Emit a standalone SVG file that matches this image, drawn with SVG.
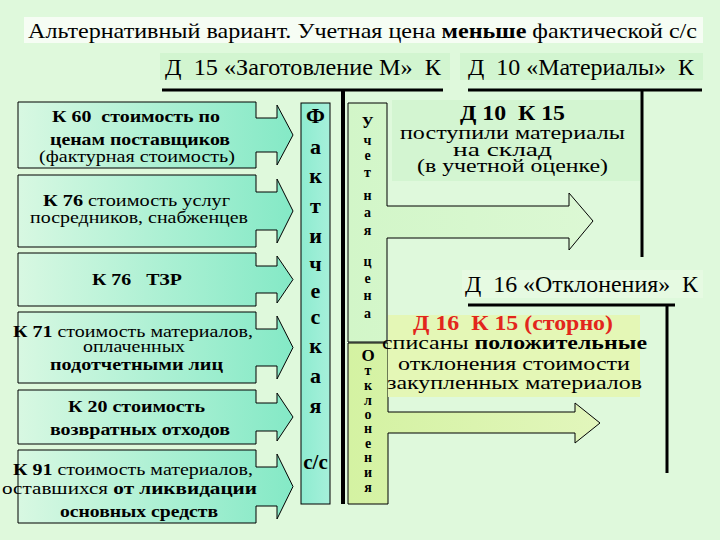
<svg xmlns="http://www.w3.org/2000/svg" width="720" height="540" viewBox="0 0 720 540">
<defs>
<linearGradient id="gBox" x1="0" y1="0" x2="1" y2="0">
<stop offset="0" stop-color="#d8f8e2"/>
<stop offset="1" stop-color="#84e9c6"/>
</linearGradient>
<linearGradient id="gF" x1="0" y1="0" x2="1" y2="0">
<stop offset="0" stop-color="#8eecd0"/>
<stop offset="1" stop-color="#a6f0da"/>
</linearGradient>
<linearGradient id="gU" x1="0" y1="0" x2="1" y2="0">
<stop offset="0" stop-color="#d2f6c8"/>
<stop offset="1" stop-color="#dcf8d4"/>
</linearGradient>
<linearGradient id="gO" x1="0" y1="0" x2="1" y2="0">
<stop offset="0" stop-color="#d4f2a2"/>
<stop offset="1" stop-color="#e2f6bc"/>
</linearGradient>
<style>
.box{fill:url(#gBox);stroke:#000;stroke-width:1}
.ln{stroke:#000;fill:none}
</style>
</defs>
<rect width="720" height="540" fill="#dff9dc"/>
<g font-family="Liberation Serif, Times New Roman, serif" fill="#000">

<g id="title">
<rect x="24" y="17" width="679" height="26" fill="#f6fdf4"/>
<text font-size="22" x="28" y="38" textLength="669" lengthAdjust="spacingAndGlyphs">Альтернативный вариант. Учетная цена <tspan font-weight="bold">меньше</tspan> фактической с/с</text>
</g>

<g id="head15">
<rect x="160" y="53" width="290" height="27" fill="#d2f5d0"/>
<text font-size="23" x="165" y="75" textLength="276" lengthAdjust="spacingAndGlyphs">Д&#160; 15 «Заготовление М»&#160; К</text>
</g>
<g id="head10">
<rect x="460" y="53" width="243" height="27" fill="#d2f5d0"/>
<text font-size="23" x="468" y="75" textLength="226" lengthAdjust="spacingAndGlyphs">Д&#160; 10 «Материалы»&#160; К</text>
</g>
<g id="head16">
<rect x="462" y="270" width="241" height="28" fill="#e6fae2"/>
<text font-size="23" x="465" y="292" textLength="233" lengthAdjust="spacingAndGlyphs">Д&#160; 16 «Отклонения»&#160; К</text>
</g>

<g id="connectors">
<path class="ln" stroke-width="3" d="M162,90 H443 M468,90 H702 M468,305 H675"/>
<path class="ln" stroke-width="4" d="M343,89 V504"/>
<path class="ln" stroke-width="3" d="M642,89 V257 M667,304 V473"/>
</g>

<g id="k60" font-size="17">
<path class="box" d="M18,102 H256 V118 H277 V105 L293,135 L277,165 V152 H256 V168 H18 Z"/>
<text font-weight="bold" x="52" y="122" textLength="168" lengthAdjust="spacingAndGlyphs">К 60&#160; стоимость по</text>
<text font-weight="bold" x="50" y="145" textLength="180" lengthAdjust="spacingAndGlyphs">ценам поставщиков</text>
<text x="39" y="162" textLength="196" lengthAdjust="spacingAndGlyphs">(фактурная стоимость)</text>
</g>
<g id="k76a" font-size="17">
<path class="box" d="M18,175 H256 V192 H277 V179 L293,211 L277,243 V230 H256 V247 H18 Z"/>
<text x="43" y="206" textLength="187" lengthAdjust="spacingAndGlyphs"><tspan font-weight="bold">К 76</tspan> стоимость услуг</text>
<text x="30" y="223" textLength="218" lengthAdjust="spacingAndGlyphs">посредников, снабженцев</text>
</g>
<g id="k76b" font-size="17">
<path class="box" d="M18,253 H256 V266 H277 V256 L293,279.5 L277,303 V293 H256 V306 H18 Z"/>
<text font-weight="bold" x="92" y="285" textLength="90" lengthAdjust="spacingAndGlyphs">К 76&#160;&#160; ТЗР</text>
</g>
<g id="k71" font-size="16">
<path class="box" d="M18,312 H256 V329 H277 V316 L293,347.5 L277,379 V366 H256 V383 H18 Z"/>
<text x="13" y="337" textLength="240" lengthAdjust="spacingAndGlyphs"><tspan font-weight="bold">К 71</tspan> стоимость материалов,</text>
<text x="83" y="352" textLength="102" lengthAdjust="spacingAndGlyphs">оплаченных</text>
<text font-weight="bold" x="50" y="370" textLength="173" lengthAdjust="spacingAndGlyphs">подотчетными лиц</text>
</g>
<g id="k20" font-size="17">
<path class="box" d="M18,390 H256 V403 H277 V393 L293,417 L277,441 V431 H256 V444 H18 Z"/>
<text font-weight="bold" x="68" y="412" textLength="137" lengthAdjust="spacingAndGlyphs">К 20 стоимость</text>
<text font-weight="bold" x="50" y="435" textLength="180" lengthAdjust="spacingAndGlyphs">возвратных отходов</text>
</g>
<g id="k91" font-size="17">
<path class="box" d="M18,450 H256 V467 H277 V454 L293,486.5 L277,519 V506 H256 V523 H18 Z"/>
<text x="13" y="475" textLength="240" lengthAdjust="spacingAndGlyphs"><tspan font-weight="bold">К 91</tspan> стоимость материалов,</text>
<text x="2" y="494" textLength="255" lengthAdjust="spacingAndGlyphs">оставшихся<tspan font-weight="bold"> от ликвидации</tspan></text>
<text font-weight="bold" x="60" y="517" textLength="158" lengthAdjust="spacingAndGlyphs">основных средств</text>
</g>

<g id="fact" font-size="22" font-weight="bold" text-anchor="middle">
<rect x="301" y="103" width="29" height="401" fill="url(#gF)" stroke="#000" stroke-width="1"/>
<text x="315.5" y="123">Ф</text>
<text x="315.5" y="154">а</text>
<text x="315.5" y="183">к</text>
<text x="315.5" y="213">т</text>
<text x="315.5" y="243">и</text>
<text x="315.5" y="271">ч</text>
<text x="315.5" y="298">е</text>
<text x="315.5" y="324">с</text>
<text x="315.5" y="353">к</text>
<text x="315.5" y="383">а</text>
<text x="315.5" y="413">я</text>
<text x="315.5" y="469" font-size="21">с/с</text>
</g>

<g id="uchet" font-size="14" font-weight="bold" text-anchor="middle">
<path d="M348,103 H387 V206 H569 V193 L593,221 L569,250 V238 H387 V342 H348 Z" fill="url(#gU)" stroke="#000" stroke-width="1"/>
<text x="367.5" y="128" font-size="16">У</text>
<text x="367.5" y="145">ч</text>
<text x="367.5" y="160">е</text>
<text x="367.5" y="177">т</text>
<text x="367.5" y="200">н</text>
<text x="367.5" y="217">а</text>
<text x="367.5" y="235">я</text>
<text x="367.5" y="266">ц</text>
<text x="367.5" y="283">е</text>
<text x="367.5" y="300">н</text>
<text x="367.5" y="318">а</text>
</g>

<g id="otkl" font-size="14" font-weight="bold" text-anchor="middle">
<path d="M348,343 H388 V412 H575 V403 L600,423 L575,443 V433 H388 V504 H348 Z" fill="url(#gO)" stroke="#000" stroke-width="1"/>
<text x="368" y="361" font-size="17">О</text>
<text x="368" y="375">т</text>
<text x="368" y="390">к</text>
<text x="368" y="405">л</text>
<text x="368" y="419">о</text>
<text x="368" y="433">н</text>
<text x="368" y="448">е</text>
<text x="368" y="462">н</text>
<text x="368" y="477">и</text>
<text x="368" y="492">я</text>
</g>

<g id="d10k15" font-size="18">
<rect x="392" y="100" width="248" height="81" fill="#d3f5d1"/>
<text font-weight="bold" x="460" y="120" font-size="21" textLength="105" lengthAdjust="spacingAndGlyphs">Д 10&#160; К 15</text>
<text x="400" y="139" textLength="225" lengthAdjust="spacingAndGlyphs">поступили материалы</text>
<text x="453" y="156" textLength="99" lengthAdjust="spacingAndGlyphs">на склад</text>
<text x="417" y="172" textLength="191" lengthAdjust="spacingAndGlyphs">(в учетной оценке)</text>
</g>

<g id="d16k15" font-size="19">
<rect x="388" y="315" width="252" height="82" fill="#e4f7b6"/>
<text font-weight="bold" x="413" y="330" font-size="20" fill="#e2261c" textLength="200" lengthAdjust="spacingAndGlyphs">Д 16&#160; К 15 (сторно)</text>
<text x="382" y="349" textLength="265" lengthAdjust="spacingAndGlyphs">списаны <tspan font-weight="bold">положительные</tspan></text>
<text x="398" y="370" textLength="232" lengthAdjust="spacingAndGlyphs">отклонения стоимости</text>
<text x="387" y="389" textLength="255" lengthAdjust="spacingAndGlyphs">закупленных материалов</text>
</g>
</g>
</svg>
